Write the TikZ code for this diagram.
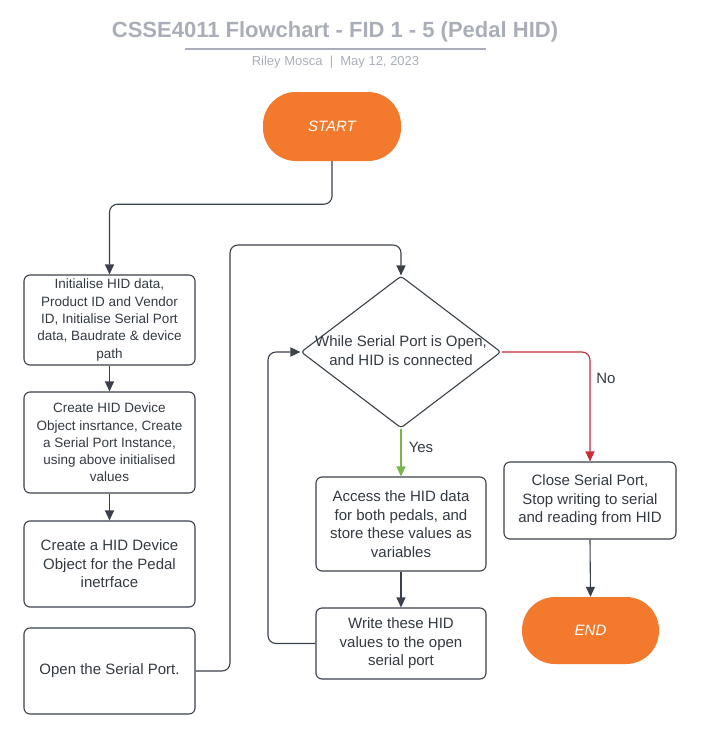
\documentclass[tikz,border=0pt]{standalone}
\usepackage{fontspec}
\setmainfont{Liberation Sans}
\usetikzlibrary{arrows.meta,shapes.geometric}
\definecolor{orng}{HTML}{F37A2C}
\definecolor{ttl}{HTML}{A9AEB8}
\definecolor{lineC}{HTML}{3A414A}
\definecolor{txtC}{HTML}{333A42}
\definecolor{redC}{HTML}{C92D39}
\definecolor{grnC}{HTML}{7AB648}
\begin{document}
\begin{tikzpicture}[x=1pt,y=-1pt,
  box/.style={draw=lineC, line width=1.1pt, rounded corners=6pt, fill=white, align=center, text=txtC, inner sep=2pt, font=\fontsize{15}{18.6}\selectfont},
  smalltext/.style={font=\fontsize{13.5}{17.3}\selectfont},
  term/.style={fill=orng, rounded corners=33pt, text=white, font=\fontsize{15}{18}\selectfont\itshape},
  dia/.style={shape=diamond, draw=lineC, line width=1.1pt, fill=white, inner sep=0pt, minimum width=200pt, minimum height=152pt, rounded corners=3pt},
  arr/.style={draw=lineC, line width=1.1pt, rounded corners=8pt, -{Triangle[length=10pt,width=9pt]}},
  lbl/.style={text=txtC, font=\fontsize{15}{18}\selectfont, inner sep=0pt}
]
\useasboundingbox (0,0) rectangle (701,747);

% title
\node[text=ttl, font=\fontsize{22}{26}\selectfont\bfseries, inner sep=0pt] (title) at (335,32) {CSSE4011 Flowchart - FID 1 - 5 (Pedal HID)};
\coordinate (ul1) at (185,49);
\coordinate (ul2) at (486,49);
\draw[ttl, line width=1.8pt] (ul1) -- (ul2);
\node[text=ttl, font=\fontsize{13}{15}\selectfont, inner sep=0pt] (sub) at (335.5,62) {Riley Mosca\ \ |\ \ May 12, 2023};

% terminals
\node[term, minimum width=138pt, minimum height=69pt] (start) at (332,126.5) {START};
\node[term, minimum width=137pt, minimum height=67pt] (end) at (590.5,630.5) {END};

% left column
\node[box, smalltext, minimum width=171pt, minimum height=90pt] (init) at (109.5,320) {Initialise HID data,\\Product ID and Vendor\\ID, Initialise Serial Port\\data, Baudrate \& device\\path};
\node[box, smalltext, minimum width=171pt, minimum height=101pt] (create) at (109.5,442.5) {Create HID Device\\Object insrtance, Create\\a Serial Port Instance,\\using above initialised\\values};
\node[box, minimum width=171pt, minimum height=86pt] (pedal) at (109.5,564) {Create a HID Device\\Object for the Pedal\\inetrface};
\node[box, minimum width=171pt, minimum height=86pt] (open) at (109.5,671) {Open the Serial Port.};

% decision
\node[dia] (dec) at (401,352) {};
\node[lbl, align=center, font=\fontsize{15}{19}\selectfont] (dectext) at (401,351) {While Serial Port is Open,\\and HID is connected};

% middle column
\node[box, minimum width=170pt, minimum height=94pt] (access) at (401,524) {Access the HID data\\for both pedals, and\\store these values as\\variables};
\node[box, minimum width=170pt, minimum height=71pt] (write) at (401,643.5) {Write these HID\\values to the open\\serial port};

% right column
\node[box, minimum width=172pt, minimum height=77pt] (close) at (590,500.5) {Close Serial Port,\\Stop writing to serial\\and reading from HID};

% labels
\node[lbl] (yes) at (421,447) {Yes};
\node[lbl] (no) at (606,378) {No};

% connectors
\coordinate (k1) at (230,245);
\coordinate (k2) at (268,352);
\draw[arr] (start.south) -- ++(0,43) -| (init.north);
\draw[arr] (init.south) -- (create.north);
\draw[arr] (create.south) -- (pedal.north);
\draw[arr] (open.east) -| (k1) -| (dec.north);
\draw[arr, draw=grnC, -{Triangle[length=10pt,width=9pt,fill=grnC]}, color=grnC] (dec.south) -- (access.north);
\draw[arr] (access.south) -- (write.north);
\draw[arr] (write.west) -| (k2) -- (dec.west);
\draw[arr, draw=redC, color=redC] (dec.east) -| (close.north);
\draw[arr] (close.south) -- (end.north);
\end{tikzpicture}
\end{document}
